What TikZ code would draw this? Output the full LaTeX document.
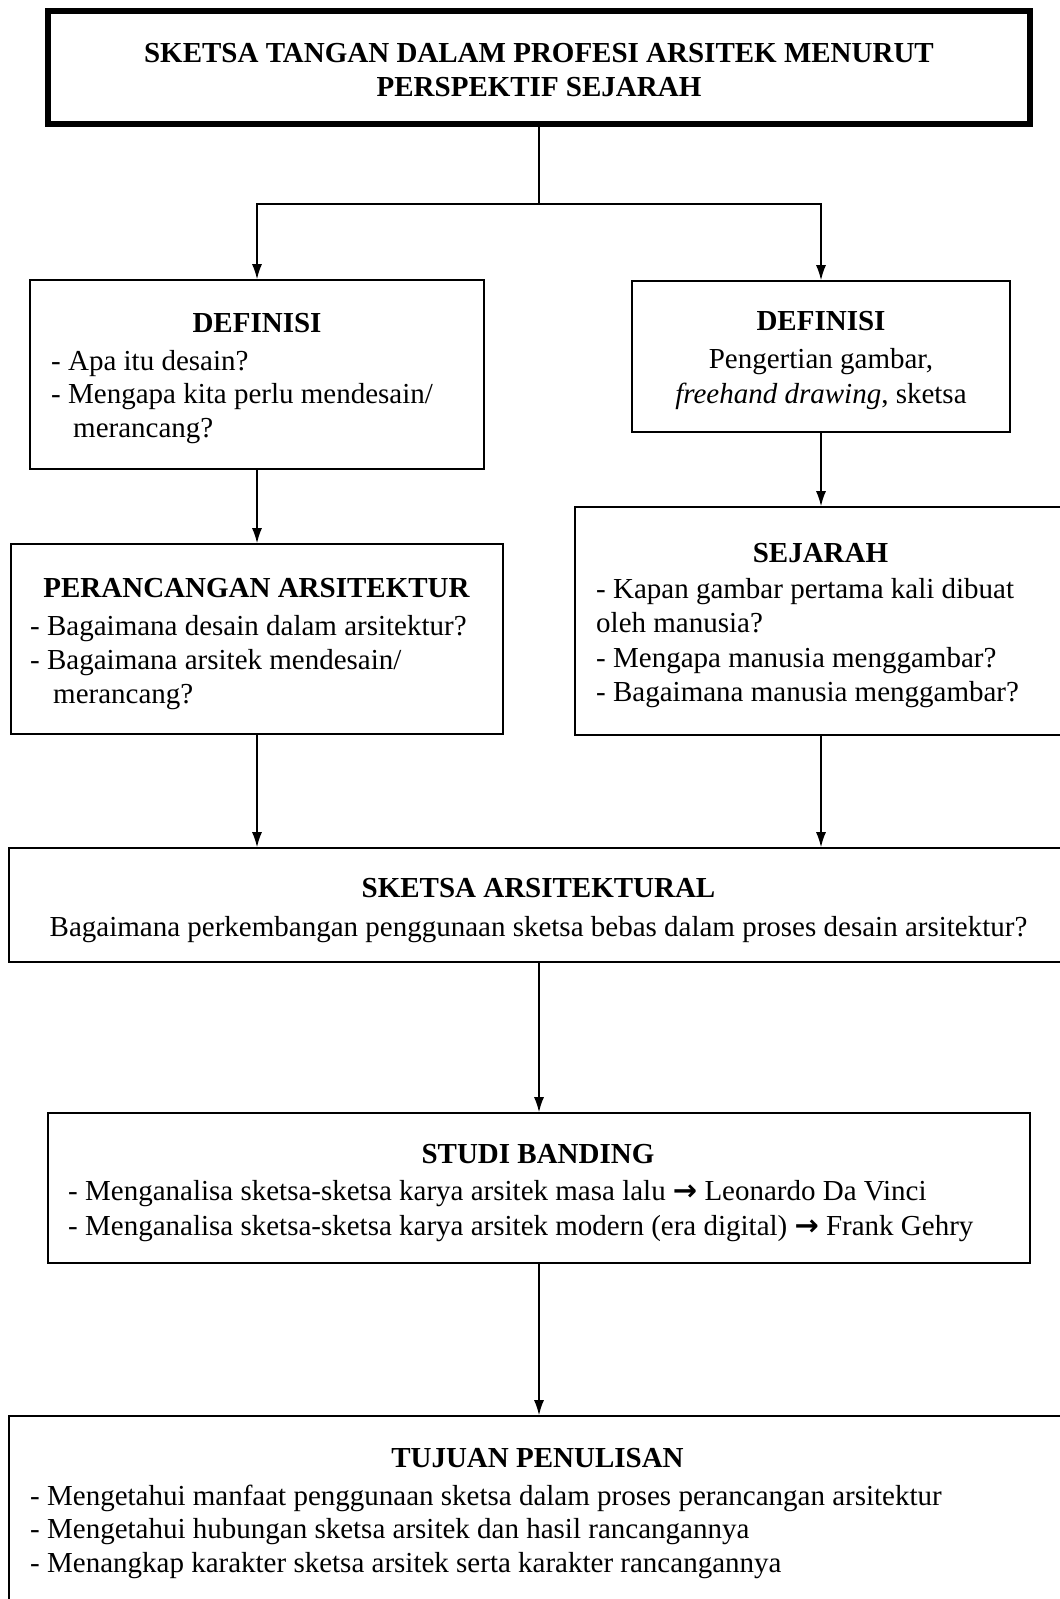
\documentclass[tikz,border=0pt]{standalone}
\usepackage{fontspec}
\setmainfont{Liberation Serif}
\newfontfamily\arrowfont{DejaVu Sans}
\usetikzlibrary{arrows.meta}

\begin{document}
\begin{tikzpicture}[x=1pt,y=1pt,yscale=-1,xscale=1,
  box/.style={draw=black,line width=1.6pt,rectangle,inner sep=0pt},
  ln/.style={anchor=base west,inner sep=0pt,font=\fontsize{29}{34}\selectfont},
  hd/.style={anchor=base,inner sep=0pt,font=\fontsize{29}{34}\selectfont\bfseries},
  ctr/.style={anchor=base,inner sep=0pt,font=\fontsize{29}{34}\selectfont},
  lnk/.style={line width=1.5pt},
  arr/.style={line width=1.5pt,-{Latex[length=15pt,width=10pt]}}]
%uncomment if require: \path (0,1599); %page is 1060 x 1599
\useasboundingbox (0,0) rectangle (1060,1599);
\clip (0,0) rectangle (1060,1599);

%Shape: Rectangle [top]
\node [box,line width=6pt,minimum width=982,minimum height=113] (top) at (539,67.5) {};
%Shape: Rectangle [definisi, left]
\node [box,minimum width=454,minimum height=189] (defa) at (257,374.5) {};
%Shape: Rectangle [definisi, right]
\node [box,minimum width=378,minimum height=151] (defb) at (821,356.5) {};
%Shape: Rectangle [perancangan]
\node [box,minimum width=492,minimum height=190] (ranc) at (257,639) {};
%Shape: Rectangle [sejarah, runs past the right edge]
\node [box,minimum width=500,minimum height=228] (sej) at (825,621) {};
%Shape: Rectangle [sketsa arsitektural, runs past the right edge]
\node [box,minimum width=1066,minimum height=114] (skt) at (542,905) {};
%Shape: Rectangle [studi banding]
\node [box,minimum width=982,minimum height=150] (studi) at (539,1188) {};
%Shape: Rectangle [tujuan, runs past the right and bottom edges]
\node [box,minimum width=1066,minimum height=200] (tuj) at (542,1516) {};

%Straight Lines
\coordinate (split) at (539,204);
\draw [lnk] (top.south) -- (split);
\draw [arr] (split) -| (defa.north);
\draw [arr] (split) -| (defb.north);
\draw [arr] (defa.south) -- (ranc.north);
\draw [arr] (defb.south) -- (defb.south |- sej.north);
\draw [arr] (ranc.south) -- (ranc.south |- skt.north);
\draw [arr] (defb.south |- sej.south) -- (defb.south |- skt.north);
\draw [arr] (studi.north |- skt.south) -- (studi.north);
\draw [arr] (studi.south) -- (studi.south |- tuj.north);

% Text Node
\node [hd] (ttla) at (539,62) {SKETSA TANGAN DALAM PROFESI ARSITEK MENURUT};
\node [hd] (ttlb) at (539,96) {PERSPEKTIF SEJARAH};
% Text Node
\node [hd] (defah) at (257,332) {DEFINISI};
\node [ln] (defa1) at (51,370) {- Apa itu desain?};
\node [ln] (defa2) at (51,403) {- Mengapa kita perlu mendesain/};
\node [ln] (defa3) at (73,437) {merancang?};
% Text Node
\node [hd] (defbh) at (821,330) {DEFINISI};
\node [ctr] (defb1) at (821,368) {Pengertian gambar,};
\node [ctr] (defb2) at (821,403) {\textit{freehand drawing}, sketsa};
% Text Node
\node [hd] (ranch) at (256.5,597) {PERANCANGAN ARSITEKTUR};
\node [ln] (ranc1) at (30,635) {- Bagaimana desain dalam arsitektur?};
\node [ln] (ranc2) at (30,669) {- Bagaimana arsitek mendesain/};
\node [ln] (ranc3) at (53,703) {merancang?};
% Text Node
\node [hd] (sejh) at (820.5,562) {SEJARAH};
\node [ln] (sej1) at (596,598) {- Kapan gambar pertama kali dibuat};
\node [ln] (sej2) at (596,632) {oleh manusia?};
\node [ln] (sej3) at (596,667) {- Mengapa manusia menggambar?};
\node [ln] (sej4) at (596,701) {- Bagaimana manusia menggambar?};
% Text Node
\node [hd] (skth) at (538.5,897) {SKETSA ARSITEKTURAL};
\node [ctr] (skt1) at (538.5,936) {Bagaimana perkembangan penggunaan sketsa bebas dalam proses desain arsitektur?};
% Text Node
\node [hd] (studih) at (538,1163) {STUDI BANDING};
\node [ln] (studi1) at (68,1200) {- Menganalisa sketsa-sketsa karya arsitek masa lalu {\arrowfont\bfseries →} Leonardo Da Vinci};
\node [ln] (studi2) at (68,1235) {- Menganalisa sketsa-sketsa karya arsitek modern (era digital) {\arrowfont\bfseries →} Frank Gehry};
% Text Node
\node [hd] (tujh) at (537.5,1467) {TUJUAN PENULISAN};
\node [ln] (tuj1) at (30,1505) {- Mengetahui manfaat penggunaan sketsa dalam proses perancangan arsitektur};
\node [ln] (tuj2) at (30,1538) {- Mengetahui hubungan sketsa arsitek dan hasil rancangannya};
\node [ln] (tuj3) at (30,1572) {- Menangkap karakter sketsa arsitek serta karakter rancangannya};

\end{tikzpicture}
\end{document}
